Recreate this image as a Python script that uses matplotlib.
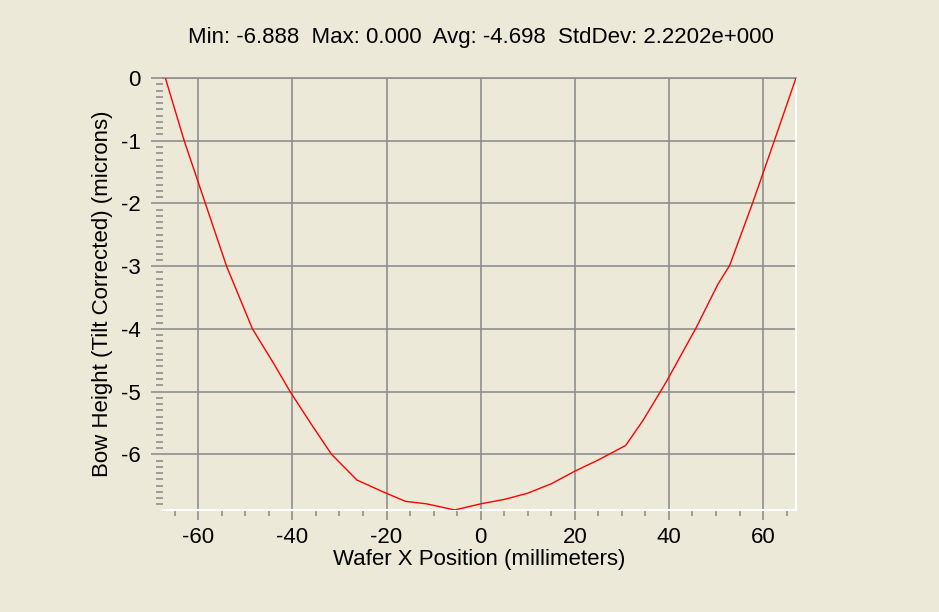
import matplotlib
matplotlib.use("Agg")
import matplotlib.pyplot as plt
from matplotlib.ticker import MultipleLocator

# wafer bow profile
x_mm = [-67, -63, -58.5, -54, -48.5, -44, -40.5, -36, -31.7, -26.3, -21, -16,
        -11.5, -5.5, 0, 5, 10, 15, 20, 25, 30.8, 34.5, 39.4, 45.8, 50.4, 52.9,
        57.8, 62.4, 67]
bow = [0.0, -1.0, -2.0, -3.0, -4.0, -4.55, -5.0, -5.52, -6.0, -6.41, -6.59,
       -6.75, -6.79, -6.888, -6.79, -6.72, -6.62, -6.47, -6.27, -6.09, -5.86,
       -5.46, -4.85, -3.98, -3.29, -2.99, -1.99, -1.0, 0.0]

x_ticks = [-60, -40, -20, 0, 20, 40, 60]
y_ticks = [0, -1, -2, -3, -4, -5, -6]
title = "Min: -6.888  Max: 0.000  Avg: -4.698  StdDev: 2.2202e+000"

plt.rcParams["font.family"] = ["Liberation Sans", "DejaVu Sans"]
plt.rcParams["axes.unicode_minus"] = False

bg = "#ECE9D8"
grid_col = "#8E8E8E"
fs = 16

fig = plt.figure(figsize=(9.39, 6.12), dpi=100, facecolor=bg)
ax = fig.add_axes([0.1736, 0.1667, 0.6741, 0.7059], facecolor=bg)

ax.plot(x_mm, bow, color="#FF0000", lw=1.0, zorder=3)

ax.set_xlim(-67.5, 67)
ax.set_ylim(-6.888, 0)
ax.set_xticks(x_ticks)
ax.set_yticks(y_ticks)
ax.set_xticklabels([str(v) for v in x_ticks])
ax.set_yticklabels([str(v) for v in y_ticks])
ax.xaxis.set_minor_locator(MultipleLocator(5))
ax.yaxis.set_minor_locator(MultipleLocator(0.1))

ax.grid(True, which="major", color=grid_col, lw=1.2)
ax.set_axisbelow(True)

ax.tick_params(axis="both", which="both", colors=grid_col, labelcolor="black",
               labelsize=fs, direction="out")
ax.tick_params(axis="x", which="major", length=7, width=1.2, pad=5)
ax.tick_params(axis="x", which="minor", length=4, width=1.2)
ax.tick_params(axis="y", which="major", length=9, width=1.2, pad=7)
ax.tick_params(axis="y", which="minor", length=5, width=1.2)

ax.spines["left"].set_visible(False)
ax.spines["top"].set_color(grid_col)
ax.spines["top"].set_linewidth(1.2)
ax.spines["bottom"].set_color("white")
ax.spines["right"].set_color("white")
ax.spines["bottom"].set_linewidth(1.5)
ax.spines["right"].set_linewidth(1.5)

ax.set_xlabel("Wafer X Position (millimeters)", fontsize=fs, labelpad=1)
ax.set_ylabel("Bow Height (Tilt Corrected) (microns)", fontsize=fs, labelpad=6)

fig.text(0.512, 0.9395, title, ha="center", va="center", fontsize=fs)

fig.savefig("out.png", dpi=100, facecolor=bg)
